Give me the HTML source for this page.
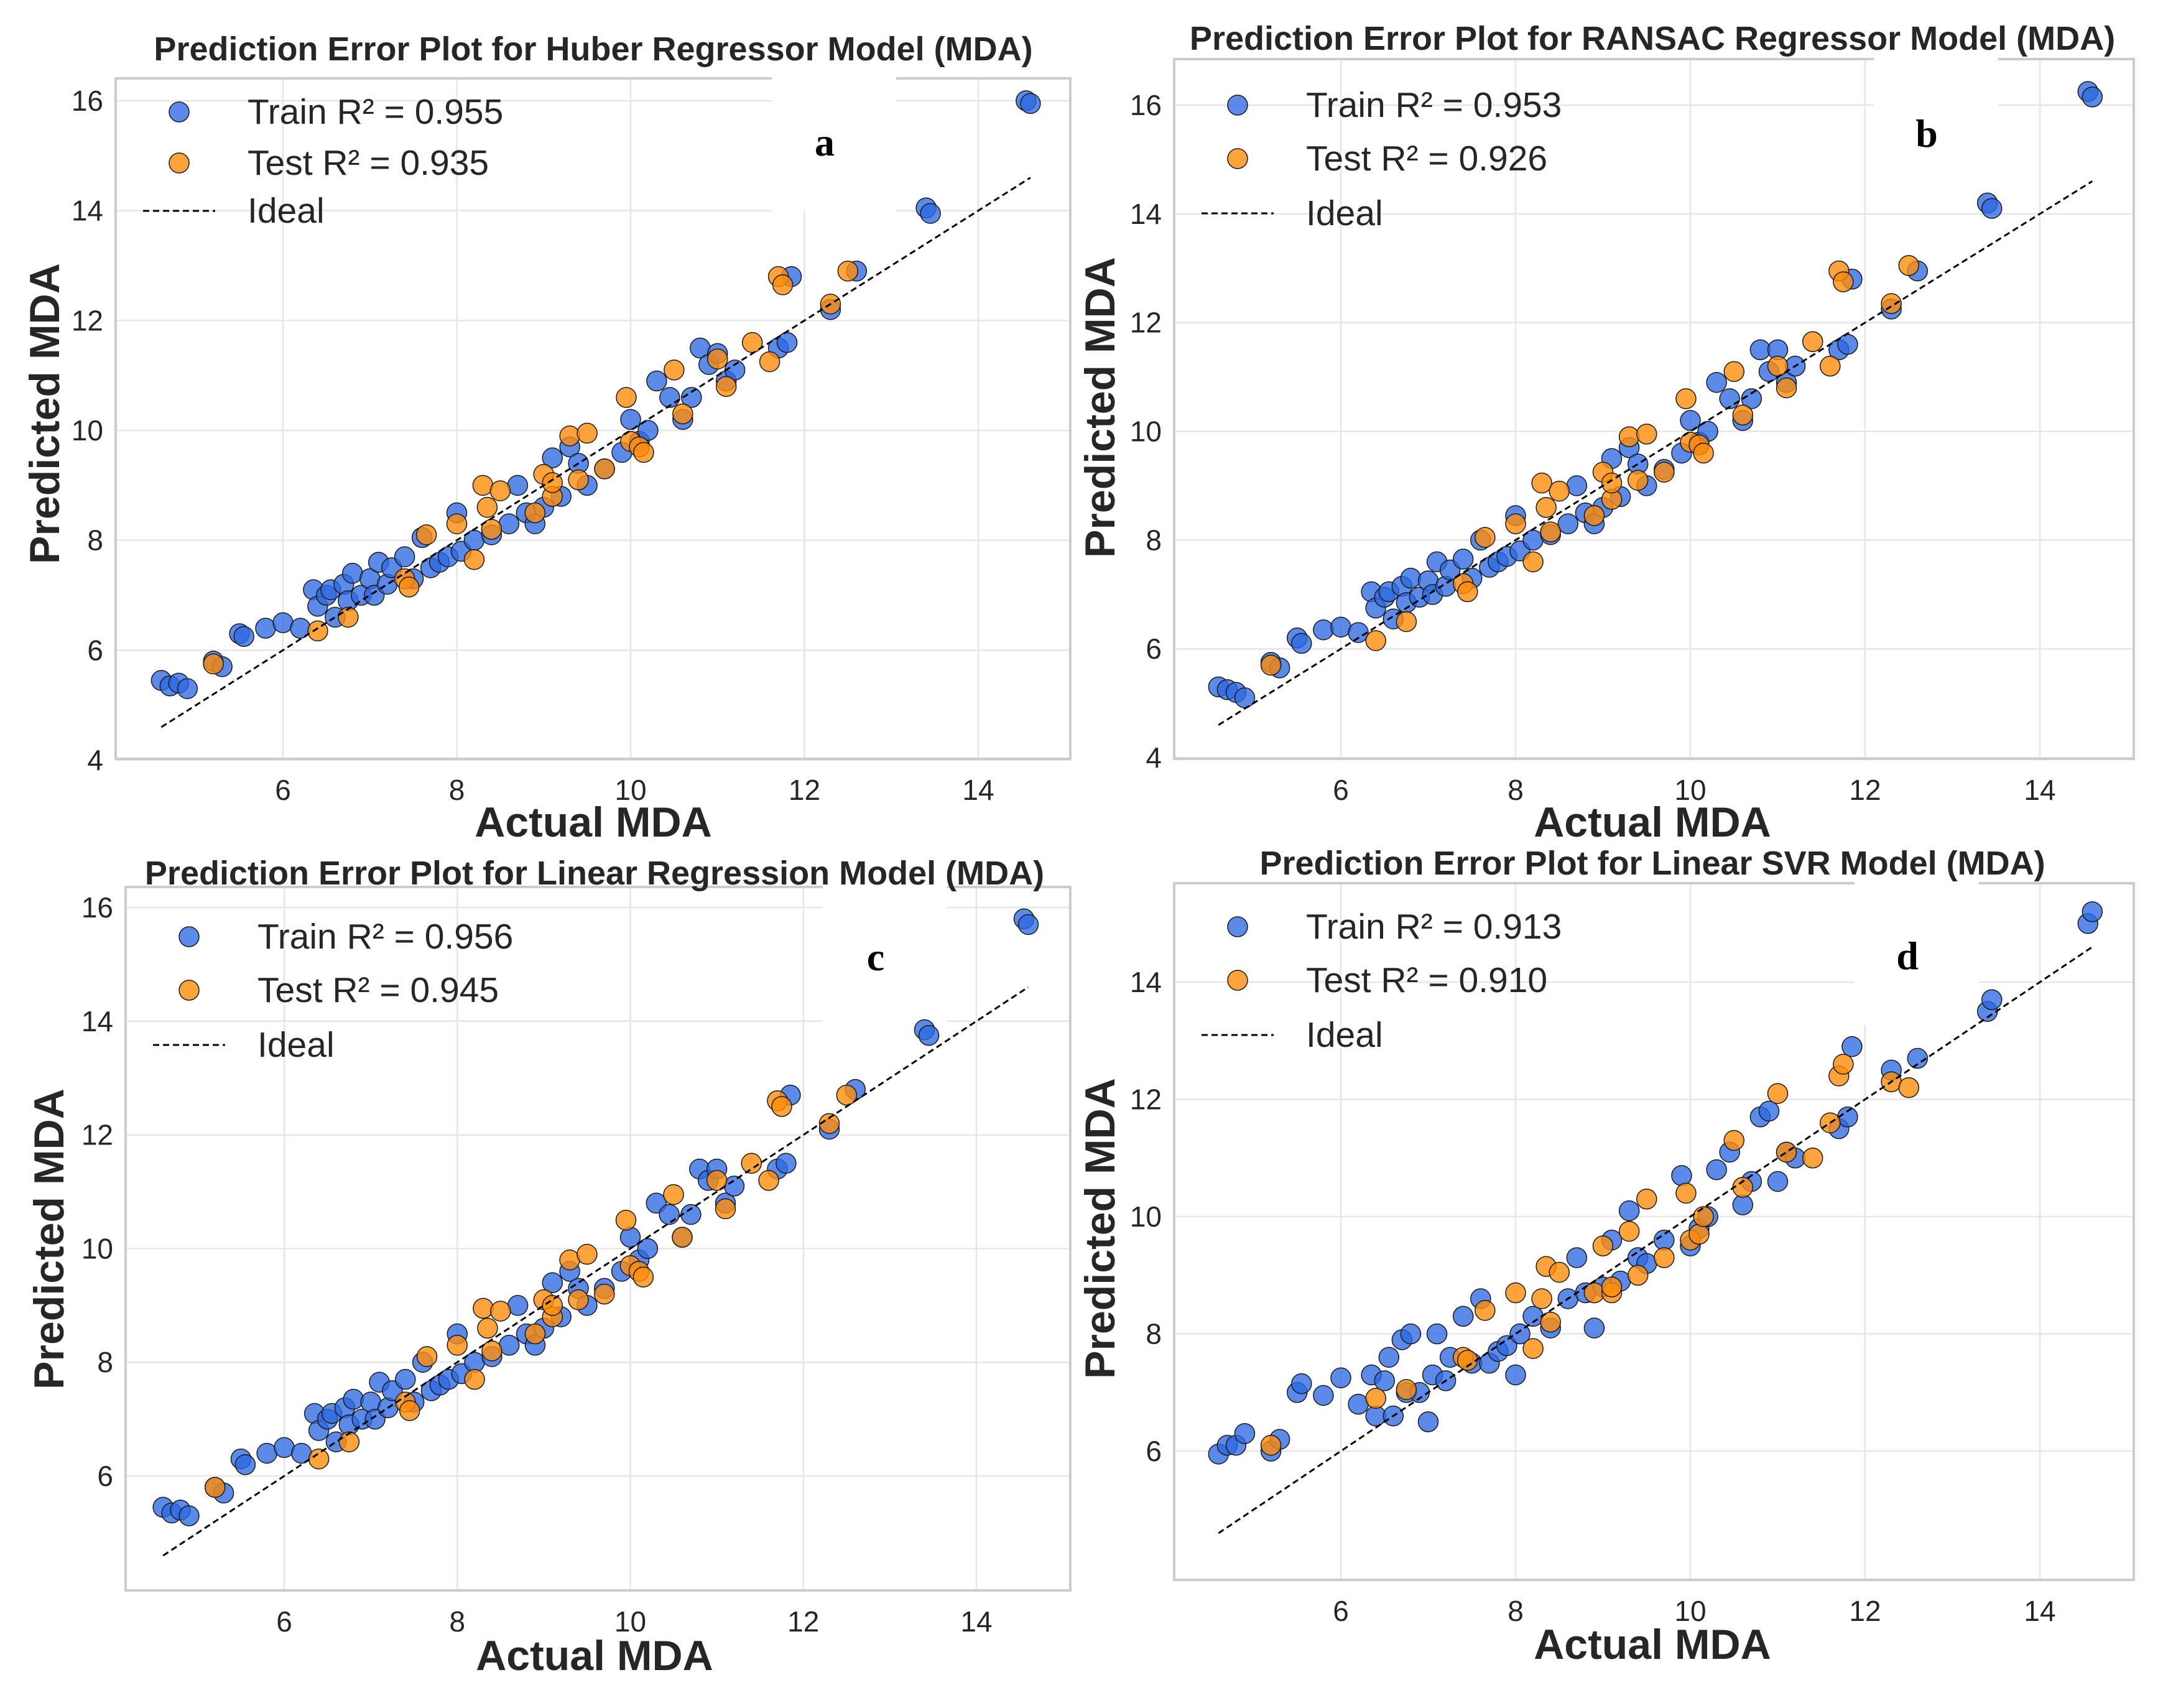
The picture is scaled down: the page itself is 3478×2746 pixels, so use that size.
<!DOCTYPE html>
<html><head><meta charset="utf-8"><style>
html,body{margin:0;padding:0;background:#fff}
svg{display:block}
text{font-family:"Liberation Sans",sans-serif}
</style></head><body>
<svg id="fig" width="3478" height="2746" viewBox="0 0 3478 2746" xmlns="http://www.w3.org/2000/svg"></svg>
<script>
const trainActual=[4.6,4.7,4.8,4.9,5.2,5.3,5.5,5.55,5.8,6.0,6.2,6.35,6.4,6.5,6.55,6.6,6.7,6.75,6.8,6.9,7.0,7.05,7.1,7.2,7.25,7.4,7.5,7.6,7.7,7.8,7.9,8.0,8.05,8.2,8.4,8.6,8.7,8.8,8.9,9.0,9.1,9.2,9.3,9.4,9.5,9.7,9.9,10.0,10.1,10.2,10.3,10.45,10.6,10.7,10.8,10.9,11.0,11.1,11.2,11.7,11.8,11.85,12.3,12.6,13.4,13.45,14.55,14.6];
const testActual=[5.2,6.4,6.75,7.4,7.45,7.65,8.0,8.2,8.3,8.35,8.4,8.5,8.9,9.0,9.1,9.1,9.3,9.4,9.5,9.7,9.95,10.0,10.1,10.15,10.5,10.6,11.0,11.1,11.4,11.6,11.7,11.75,12.3,12.5];
const trainPredA=[5.45,5.35,5.4,5.3,5.8,5.7,6.3,6.25,6.4,6.5,6.4,7.1,6.8,7.0,7.1,6.6,7.2,6.9,7.4,7.0,7.3,7.0,7.6,7.2,7.5,7.7,7.3,8.05,7.5,7.6,7.7,8.5,7.8,8.0,8.1,8.3,9.0,8.5,8.3,8.6,9.5,8.8,9.7,9.4,9.0,9.3,9.6,10.2,9.8,10.0,10.9,10.6,10.2,10.6,11.5,11.2,11.4,10.9,11.1,11.5,11.6,12.8,12.2,12.9,14.05,13.95,16.0,15.95];
const testPredA=[5.75,6.35,6.6,7.3,7.15,8.1,8.3,7.65,9.0,8.6,8.2,8.9,8.5,9.2,8.8,9.05,9.9,9.1,9.95,9.3,10.6,9.8,9.7,9.6,11.1,10.3,11.3,10.8,11.6,11.25,12.8,12.65,12.3,12.9];
const trainPredB=[5.3,5.25,5.2,5.1,5.75,5.65,6.2,6.1,6.35,6.4,6.3,7.05,6.75,6.95,7.05,6.55,7.15,6.85,7.3,6.95,7.25,7.0,7.6,7.15,7.45,7.65,7.3,8.0,7.5,7.6,7.7,8.45,7.8,8.0,8.1,8.3,9.0,8.5,8.3,8.6,9.5,8.8,9.7,9.4,9.0,9.3,9.6,10.2,9.8,10.0,10.9,10.6,10.2,10.6,11.5,11.1,11.5,10.9,11.2,11.5,11.6,12.8,12.25,12.95,14.2,14.1,16.25,16.15];
const testPredB=[5.7,6.15,6.5,7.2,7.05,8.05,8.3,7.6,9.05,8.6,8.15,8.9,8.45,9.25,8.75,9.05,9.9,9.1,9.95,9.25,10.6,9.8,9.75,9.6,11.1,10.3,11.2,10.8,11.65,11.2,12.95,12.75,12.35,13.05];
const trainPredC=[5.45,5.35,5.4,5.3,5.8,5.7,6.3,6.2,6.4,6.5,6.4,7.1,6.8,7.0,7.1,6.6,7.2,6.9,7.35,7.0,7.3,7.0,7.65,7.2,7.5,7.7,7.3,8.0,7.5,7.6,7.7,8.5,7.8,8.0,8.1,8.3,9.0,8.5,8.3,8.6,9.4,8.8,9.6,9.3,9.0,9.3,9.6,10.2,9.8,10.0,10.8,10.6,10.2,10.6,11.4,11.2,11.4,10.8,11.1,11.4,11.5,12.7,12.1,12.8,13.85,13.75,15.8,15.7];
const testPredC=[5.8,6.3,6.6,7.3,7.15,8.1,8.3,7.7,8.95,8.6,8.2,8.9,8.5,9.1,8.8,9.0,9.8,9.1,9.9,9.2,10.5,9.7,9.6,9.5,10.95,10.2,11.2,10.7,11.5,11.2,12.6,12.5,12.2,12.7];
const trainPredD=[5.95,6.1,6.1,6.3,6.0,6.2,7.0,7.15,6.95,7.25,6.8,7.3,6.6,7.2,7.6,6.6,7.9,7.0,8.0,7.0,6.5,7.3,8.0,7.2,7.6,8.3,7.5,8.6,7.5,7.7,7.8,7.3,8.0,8.3,8.1,8.6,9.3,8.7,8.1,8.8,9.6,8.9,10.1,9.3,9.2,9.6,10.7,9.5,9.8,10.0,10.8,11.1,10.2,10.6,11.7,11.8,10.6,11.1,11.0,11.5,11.7,12.9,12.5,12.7,13.5,13.7,15.0,15.2];
const testPredD=[6.1,6.9,7.05,7.6,7.55,8.4,8.7,7.75,8.6,9.15,8.2,9.05,8.7,9.5,8.7,8.8,9.75,9.0,10.3,9.3,10.4,9.6,9.7,10.0,11.3,10.5,12.1,11.1,11.0,11.6,12.4,12.6,12.3,12.2];
const r2Train=["0.955","0.953","0.956","0.913"];
const r2Test=["0.935","0.926","0.945","0.910"];
const modelNames=["Huber Regressor","RANSAC Regressor","Linear Regression","Linear SVR"];
const yTicksList=[[4,6,8,10,12,14,16],[4,6,8,10,12,14,16],[6,8,10,12,14,16],[6,8,10,12,14]];
const xTicks=[6,8,10,12,14];
const idealRange=[4.6,14.6];

const NS="http://www.w3.org/2000/svg";
const fig=document.getElementById('fig');
function mk(tag,attrs,parent){const e=document.createElementNS(NS,tag);for(const k in attrs)e.setAttribute(k,attrs[k]);(parent||fig).appendChild(e);return e;}

const panels=[
 {L:186,R:1721,T:126,B:1220,x0:[6,455],x1:[14,1573],y0:[16,162],y1:[4,1222],tr:trainPredA,te:testPredA,letter:'a',lx:1326,ly:230,tx:954,ty:97,xl:[954,1345],yl:[71,665]},
 {L:1888,R:3431,T:95,B:1220,x0:[6,2156],x1:[14,3280],y0:[16,169],y1:[4,1218],tr:trainPredB,te:testPredB,letter:'b',lx:3098,ly:216,tx:2657,ty:80,xl:[2657,1345],yl:[1768,655]},
 {L:202,R:1721,T:1426,B:2557,x0:[6,457],x1:[14,1570],y0:[16,1459],y1:[6,2373],tr:trainPredC,te:testPredC,letter:'c',lx:1408,ly:1540,tx:956,ty:1422,xl:[956,2685],yl:[78,1992]},
 {L:1888,R:3431,T:1420,B:2540,x0:[6,2156],x1:[14,3280],y0:[14,1579],y1:[6,2333],tr:trainPredD,te:testPredD,letter:'d',lx:3067,ly:1538,tx:2657,ty:1406,xl:[2657,2667],yl:[1768,1975]}
];
const legOff=[[54,136,213],[74,160,248],[80,166,254],[70,156,244]];

panels.forEach((p,i)=>{
 const g=mk('g',{});
 
 
 const xs=v=>p.x0[1]+(v-p.x0[0])*(p.x1[1]-p.x0[1])/(p.x1[0]-p.x0[0]);
 const ys=v=>p.y0[1]+(v-p.y0[0])*(p.y1[1]-p.y0[1])/(p.y1[0]-p.y0[0]);
 const bg=mk('rect',{x:p.L,y:p.T,width:p.R-p.L,height:p.B-p.T,fill:'#fff'},g);
 
 
 xTicks.forEach(t=>{
  const gl=mk('line',{x1:xs(t),x2:xs(t),y1:p.T,y2:p.B,stroke:'#e6e6e6','stroke-width':2.5},g);
  
  
  const tl=mk('text',{x:xs(t),y:p.B+66,'text-anchor':'middle','font-size':46,fill:'#262626'},g);
  tl.textContent=t;
  
  
 });
 yTicksList[i].forEach(t=>{
  const gl=mk('line',{x1:p.L,x2:p.R,y1:ys(t),y2:ys(t),stroke:'#e6e6e6','stroke-width':2.5},g);
  
  
  const tl=mk('text',{x:p.L-20,y:ys(t)+16,'text-anchor':'end','font-size':46,fill:'#262626'},g);
  tl.textContent=t;
  
  
 });
 const bx=mk('rect',{x:p.L,y:p.T,width:p.R-p.L,height:p.B-p.T,fill:'none',stroke:'#cccccc','stroke-width':4},g);
 
 
 const lb=mk('rect',{x:p.lx-85,y:p.ly-130,width:200,height:240,fill:'#fff'},g);
 
 
 trainActual.forEach((a,k)=>{
  const c=mk('circle',{cx:xs(a),cy:ys(p.tr[k]),r:16,fill:'rgba(45,105,225,0.78)',stroke:'#1a1a1a','stroke-width':1.5},g);
  
  
 });
 testActual.forEach((a,k)=>{
  const c=mk('circle',{cx:xs(a),cy:ys(p.te[k]),r:16,fill:'rgba(255,140,10,0.8)',stroke:'#1a1a1a','stroke-width':1.5},g);
  
  
 });
 const il=mk('line',{x1:xs(idealRange[0]),y1:ys(idealRange[0]),x2:xs(idealRange[1]),y2:ys(idealRange[1]),stroke:'#000','stroke-width':3,'stroke-dasharray':'10,6'},g);
 
 
 const lo=legOff[i];
 const mx=p.L+102, txx=p.L+212;
 const l1=mk('circle',{cx:mx,cy:p.T+lo[0],r:16,fill:'rgba(45,105,225,0.78)',stroke:'#1a1a1a','stroke-width':1.5},g);
 
 
 const t1=mk('text',{x:txx,y:p.T+lo[0]+19,'font-size':57,fill:'#262626'},g);
 t1.textContent='Train R² = '+r2Train[i];
 
 
 const l2=mk('circle',{cx:mx,cy:p.T+lo[1],r:16,fill:'rgba(255,140,10,0.8)',stroke:'#1a1a1a','stroke-width':1.5},g);
 
 
 const t2=mk('text',{x:txx,y:p.T+lo[1]+19,'font-size':57,fill:'#262626'},g);
 t2.textContent='Test R² = '+r2Test[i];
 
 
 const l3=mk('line',{x1:mx-58,x2:mx+58,y1:p.T+lo[2],y2:p.T+lo[2],stroke:'#000','stroke-width':3,'stroke-dasharray':'10,6'},g);
 
 
 const t3=mk('text',{x:txx,y:p.T+lo[2]+19,'font-size':57,fill:'#262626'},g);
 t3.textContent='Ideal';
 
 
 const lt=mk('text',{x:p.lx,y:p.ly+20,'text-anchor':'middle','font-size':64,'font-weight':'bold',fill:'#000',style:'font-family:"Liberation Serif",serif'},g);
 lt.textContent=p.letter;
 
 
 const tt=mk('text',{x:p.tx,y:p.ty,'text-anchor':'middle','font-size':54,'font-weight':'bold',fill:'#262626'},g);
 tt.textContent='Prediction Error Plot for '+modelNames[i]+' Model (MDA)';
 
 
 const xl=mk('text',{x:p.xl[0],y:p.xl[1],'text-anchor':'middle','font-size':68,'font-weight':'bold',fill:'#262626'},g);
 xl.textContent='Actual MDA';
 
 
 const yl=mk('text',{x:p.yl[0],y:p.yl[1],'text-anchor':'middle','font-size':68,'font-weight':'bold',fill:'#262626',transform:`rotate(-90 ${p.yl[0]} ${p.yl[1]}) translate(0 24)`},g);
 yl.textContent='Predicted MDA';
 
 
});
</script>
</body></html>
